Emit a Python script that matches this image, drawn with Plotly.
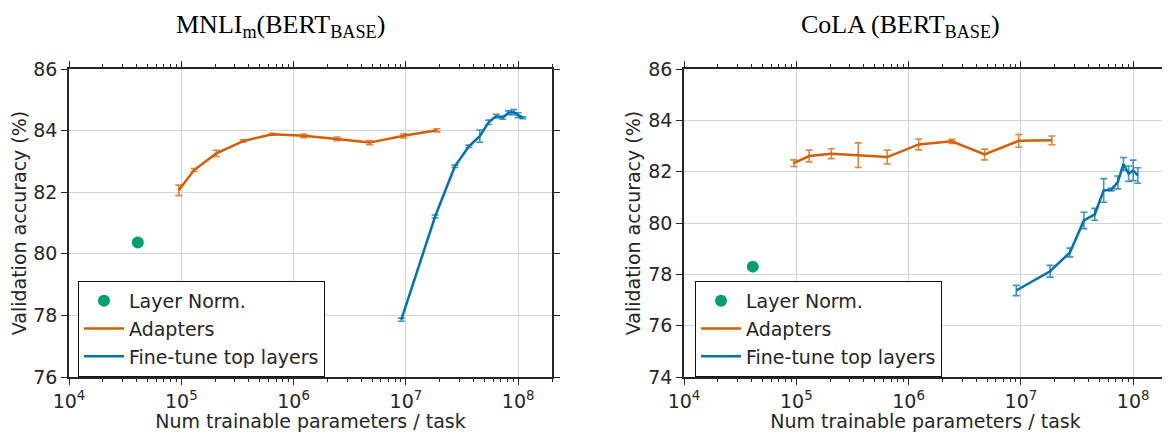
import plotly.graph_objects as go

# ---------------- data ----------------
layernorm_params = [4.1e4]
mnli_layernorm = [80.37]
cola_layernorm = [78.3]

adapter_params = [9.5e4, 1.3e5, 2.05e5, 3.56e5, 6.45e5, 1.23e6, 2.43e6, 4.75e6, 9.55e6, 1.89e7]
mnli_adapter = [82.06, 82.72, 83.26, 83.66, 83.88, 83.83, 83.73, 83.61, 83.83, 84.01]
mnli_adapter_err = [0.17, 0.05, 0.10, 0.04, 0.03, 0.06, 0.06, 0.07, 0.07, 0.05]
cola_adapter = [82.33, 82.61, 82.70, 82.64, 82.57, 83.06, 83.18, 82.67, 83.20, 83.22]
cola_adapter_err = [0.13, 0.23, 0.19, 0.48, 0.27, 0.21, 0.08, 0.21, 0.25, 0.17]

finetune_params = [9.1e6, 1.82e7, 2.73e7, 3.64e7, 4.55e7, 5.46e7, 6.37e7, 7.28e7, 8.19e7, 9.1e7, 1.0e8, 1.1e8]
mnli_finetune = [77.86, 81.21, 82.84, 83.49, 83.82, 84.27, 84.47, 84.42, 84.58, 84.60, 84.50, 84.42]
mnli_finetune_err = [0.05, 0.05, 0.04, 0.04, 0.20, 0.07, 0.06, 0.05, 0.06, 0.08, 0.08, 0.03]
cola_finetune = [77.37, 78.12, 78.85, 80.10, 80.34, 81.27, 81.30, 81.58, 82.30, 81.92, 82.05, 81.85]
cola_finetune_err = [0.20, 0.23, 0.17, 0.32, 0.23, 0.46, 0.05, 0.25, 0.25, 0.30, 0.40, 0.30]

x_tick_vals = [1e4, 1e5, 1e6, 1e7, 1e8]
x_tick_text = ["10<sup>4</sup>", "10<sup>5</sup>", "10<sup>6</sup>", "10<sup>7</sup>", "10<sup>8</sup>"]
mnli_y_ticks = [76, 78, 80, 82, 84, 86]
cola_y_ticks = [74, 76, 78, 80, 82, 84, 86]

titles = ["MNLI<sub>m</sub>(BERT<sub>BASE</sub>)", "CoLA (BERT<sub>BASE</sub>)"]
series_names = ["Layer Norm.", "Adapters", "Fine-tune top layers"]
x_title = "Num trainable parameters / task"
y_title = "Validation accuracy (%)"

# ---------------- style ----------------
GREEN = "#009E73"
ORANGE = "#D55E00"
BLUE = "#0072B2"
TEXT = "#262626"
FONT = "DejaVu Sans"
FS = 19

minor_vals = [m * 10 ** e for e in range(4, 9) for m in range(2, 10) if m * 10 ** e <= 2e8]

fig = go.Figure()

panels = [
    (mnli_layernorm, mnli_adapter, mnli_adapter_err, mnli_finetune, mnli_finetune_err, "x", "y", "legend"),
    (cola_layernorm, cola_adapter, cola_adapter_err, cola_finetune, cola_finetune_err, "x2", "y2", "legend2"),
]

for ln, ad, ade, ft, fte, xa, ya, lg in panels:
    fig.add_trace(go.Scatter(
        x=layernorm_params, y=ln, mode="markers", name=series_names[0],
        marker=dict(color=GREEN, size=12), xaxis=xa, yaxis=ya, legend=lg))
    fig.add_trace(go.Scatter(
        x=adapter_params, y=ad, mode="lines", name=series_names[1],
        line=dict(color=ORANGE, width=2.5),
        error_y=dict(type="data", array=ade, visible=True, color="rgba(213,94,0,0.75)",
                     thickness=1.6, width=3.5),
        xaxis=xa, yaxis=ya, legend=lg))
    fig.add_trace(go.Scatter(
        x=finetune_params, y=ft, mode="lines", name=series_names[2],
        line=dict(color=BLUE, width=2.5),
        error_y=dict(type="data", array=fte, visible=True, color="rgba(0,114,178,0.75)",
                     thickness=1.6, width=3.5),
        xaxis=xa, yaxis=ya, legend=lg))

# page body has an 8px margin: paper origin sits at screen (8, 8)
OFF = 8
W, H = 1170 - OFF, 432 - OFF
top_px, bot_px = 69 - OFF, 377 - OFF
ydom = [1 - bot_px / H, 1 - top_px / H]

def px_x(sx):
    return (sx - OFF) / W

def px_y(sy):
    return 1 - (sy - OFF) / H

def xaxis_cfg(domain, anchor):
    return dict(
        type="log", range=[4, 8.301], domain=domain, anchor=anchor, automargin=False,
        tickmode="array", tickvals=x_tick_vals, ticktext=x_tick_text,
        ticks="outside", ticklen=6, tickwidth=1.2, tickcolor=TEXT,
        showline=True, linecolor=TEXT, linewidth=1.5, mirror="ticks",
        showgrid=True, gridcolor="#d4d4d4", gridwidth=1,
        zeroline=False,
        minor=dict(tickmode="array", tickvals=minor_vals, ticks="outside",
                   ticklen=3, tickwidth=1, tickcolor=TEXT, showgrid=False),
        tickfont=dict(family=FONT, size=FS, color=TEXT),
        title=dict(text=x_title, font=dict(family=FONT, size=FS, color=TEXT), standoff=4),
    )

def yaxis_cfg(rng, ticks, anchor):
    return dict(
        range=rng, domain=ydom, anchor=anchor, automargin=False,
        tickmode="array", tickvals=ticks,
        ticks="outside", ticklen=6, tickwidth=1.2, tickcolor=TEXT,
        showline=True, linecolor=TEXT, linewidth=1.5, mirror="ticks",
        showgrid=True, gridcolor="#d4d4d4", gridwidth=1,
        zeroline=False,
        tickfont=dict(family=FONT, size=FS, color=TEXT),
        title=dict(text=y_title, font=dict(family=FONT, size=FS, color=TEXT), standoff=3),
    )

legend_common = dict(
    bgcolor="white", bordercolor="#111111", borderwidth=1,
    font=dict(family=FONT, size=FS, color=TEXT),
    xanchor="left", yanchor="top", traceorder="normal",
    itemwidth=40,
)

fig.update_layout(
    width=W, height=H,
    margin=dict(l=0, r=0, t=0, b=0),
    paper_bgcolor="white", plot_bgcolor="white",
    xaxis=xaxis_cfg([px_x(69), px_x(552)], "y"),
    yaxis=yaxis_cfg([76, 86], mnli_y_ticks, "x"),
    xaxis2=xaxis_cfg([px_x(684), px_x(1167)], "y2"),
    yaxis2=yaxis_cfg([74, 86], cola_y_ticks, "x2"),
    legend=dict(x=px_x(78), y=px_y(281), **legend_common),
    legend2=dict(x=px_x(695), y=px_y(281), **legend_common),
    showlegend=True,
    annotations=[
        dict(text=titles[0], x=px_x(280), y=1, xref="paper", yref="paper",
             showarrow=False, xanchor="center", yanchor="top",
             font=dict(family="Liberation Serif", size=26, color="black")),
        dict(text=titles[1], x=px_x(900), y=1, xref="paper", yref="paper",
             showarrow=False, xanchor="center", yanchor="top",
             font=dict(family="Liberation Serif", size=26, color="black")),
    ],
)

fig.write_html("out.html")
